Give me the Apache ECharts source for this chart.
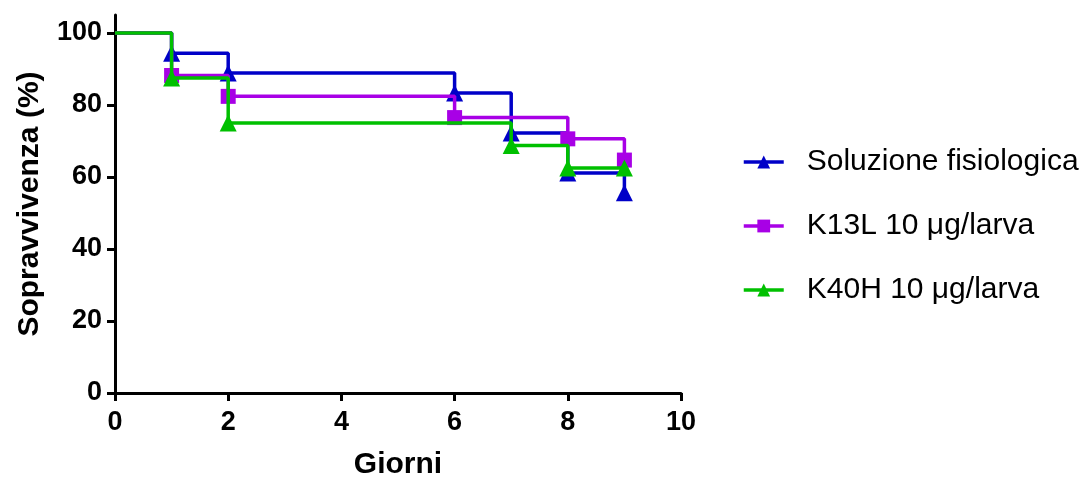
<!DOCTYPE html>
<html><head><meta charset="utf-8">
<script src="https://cdn.jsdelivr.net/npm/echarts@6/dist/echarts.min.js"></script>
<style>html,body{margin:0;padding:0;background:#fff}#c{width:1085px;height:477px}</style>
</head><body><div id="c"></div>
<script>
const seriesNames = ['Soluzione fisiologica', 'K13L 10 \u03BCg/larva', 'K40H 10 \u03BCg/larva'];
const daysBlue = [0, 1, 2, 6, 7, 8, 9];
const survBlue = [100, 94.4, 88.9, 83.3, 72.2, 61.1, 55.6];
const daysMagenta = [0, 1, 2, 6, 8, 9];
const survMagenta = [100, 88.2, 82.4, 76.5, 70.6, 64.7];
const daysGreen = [0, 1, 2, 7, 8, 9];
const survGreen = [100, 87.5, 75, 68.75, 62.5, 62.5];
const xTicks = [0, 2, 4, 6, 8, 10];
const yTicks = [0, 20, 40, 60, 80, 100];

const colors = ['#0000C8', '#A800E6', '#00C000'];
const symbols = ['triangle', 'rect', 'triangle'];
const font = 'Arial, "Liberation Sans", sans-serif';

function build(days, vals) {
  return days.map((d, i) => i === 0 ? {value: [d, vals[i]], symbol: 'none'} : {value: [d, vals[i]]});
}
const datasets = [build(daysBlue, survBlue), build(daysMagenta, survMagenta), build(daysGreen, survGreen)];

const chart = echarts.init(document.getElementById('c'), null, {renderer: 'canvas'});
chart.setOption({
  animation: false,
  backgroundColor: '#fff',
  textStyle: {fontFamily: font},
  grid: {left: 115, right: 404, top: 15, bottom: 84, containLabel: false, outerBoundsMode: 'none'},
  legend: {
    orient: 'vertical', left: 737, top: 142,
    itemWidth: 40, itemHeight: 16, itemGap: 34,
    lineStyle: {width: 3.5},
    textStyle: {fontSize: 30, color: '#000', fontFamily: font, padding: [0, 0, 0, 18]},
    data: seriesNames
  },
  xAxis: {
    type: 'value', min: 0, max: 10, interval: 2,
    name: 'Giorni', nameLocation: 'middle', nameGap: 57,
    nameTextStyle: {fontSize: 30, fontWeight: 'bold', color: '#000', fontFamily: font},
    axisLine: {show: true, lineStyle: {color: '#000', width: 3}},
    axisTick: {show: true, length: 8, lineStyle: {color: '#000', width: 3}},
    axisLabel: {fontSize: 27, fontWeight: 'bold', color: '#000', margin: 16, fontFamily: font},
    splitLine: {show: false}
  },
  yAxis: {
    type: 'value', min: 0, max: 105,
    name: 'Sopravvivenza (%)', nameLocation: 'middle', nameGap: 70, nameRotate: 90,
    nameTextStyle: {fontSize: 30, fontWeight: 'bold', color: '#000', fontFamily: font},
    axisLine: {show: true, lineStyle: {color: '#000', width: 3}},
    axisTick: {show: true, length: 8, customValues: yTicks, lineStyle: {color: '#000', width: 3}},
    axisLabel: {fontSize: 27, fontWeight: 'bold', color: '#000', margin: 13, customValues: yTicks, fontFamily: font},
    splitLine: {show: false}
  },
  series: seriesNames.map((n, i) => ({
    name: n, type: 'line', step: 'end',
    data: datasets[i],
    symbol: symbols[i], symbolSize: i === 1 ? 15 : 17,
    showAllSymbol: true,
    lineStyle: {color: colors[i], width: 3.5},
    itemStyle: {color: colors[i]},
    z: 2 + i
  }))
});
</script>
</body></html>
